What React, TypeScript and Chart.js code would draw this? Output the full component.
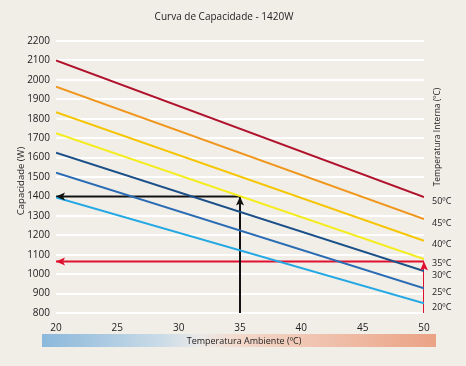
import React, { useEffect, useRef } from "react";
import { Chart, registerables } from "chart.js";

Chart.register(...registerables);

const xStart = 20;
const xEnd = 50;
const seriesLabels = ["50ºC", "45ºC", "40ºC", "35ºC", "30ºC", "25ºC", "20ºC"];
const startValues = [2100, 1965, 1833, 1725, 1625, 1522, 1395];
const endValues = [1397, 1284, 1172, 1078, 1016, 927, 850];
const seriesColors = ["#b0122c", "#f0961c", "#f5c500", "#f4ec1c", "#1a4f87", "#2a6cb3", "#24a8e4"];

const blackPointX = 35;
const blackPointY = 1400;
const redPointX = 50;
const redPointY = 1065;
const yMin = 800;
const yMax = 2200;

const FONT = "'Open Sans', sans-serif";

export default function App() {
  const ref = useRef<HTMLCanvasElement>(null);
  useEffect(() => {
    if (!ref.current) return;
    const lineSets = seriesLabels.map((lab, i) => ({
      label: lab,
      data: [
        { x: xStart, y: startValues[i] },
        { x: xEnd, y: endValues[i] },
      ],
      borderColor: seriesColors[i],
      borderWidth: 2,
      pointRadius: 0,
      tension: 0,
    }));
    const arrowSets = [
      { label: "bh", data: [{ x: blackPointX, y: blackPointY }, { x: xStart, y: blackPointY }], borderColor: "#111" },
      { label: "bv", data: [{ x: blackPointX, y: yMin }, { x: blackPointX, y: blackPointY }], borderColor: "#111" },
      { label: "rh", data: [{ x: redPointX, y: redPointY }, { x: xStart, y: redPointY }], borderColor: "#e0102f" },
      { label: "rv", data: [{ x: redPointX, y: yMin }, { x: redPointX, y: redPointY }], borderColor: "#e0102f" },
    ].map((d) => ({ ...d, borderWidth: 2, pointRadius: 0, tension: 0 }));

    const decor = {
      id: "decor",
      afterDraw(chart: any) {
        const ctx = chart.ctx;
        const xs = chart.scales.x;
        const ys = chart.scales.y;
        ctx.save();
        const head = (px: number, py: number, dir: string, color: string) => {
          ctx.fillStyle = color;
          ctx.beginPath();
          const L = 9, W = 4;
          if (dir === "left") {
            ctx.moveTo(px, py);
            ctx.lineTo(px + L, py - W);
            ctx.lineTo(px + L - 2, py);
            ctx.lineTo(px + L, py + W);
          } else {
            ctx.moveTo(px, py);
            ctx.lineTo(px - W, py + L);
            ctx.lineTo(px, py + L - 2);
            ctx.lineTo(px + W, py + L);
          }
          ctx.closePath();
          ctx.fill();
        };
        head(xs.getPixelForValue(xStart), ys.getPixelForValue(blackPointY), "left", "#111");
        head(xs.getPixelForValue(blackPointX), ys.getPixelForValue(blackPointY), "up", "#111");
        head(xs.getPixelForValue(xStart), ys.getPixelForValue(redPointY), "left", "#e0102f");
        head(xs.getPixelForValue(redPointX), ys.getPixelForValue(redPointY), "up", "#e0102f");

        ctx.fillStyle = "#222";
        ctx.font = `10px ${FONT}`;
        ctx.textAlign = "center";
        ctx.textBaseline = "middle";
        ctx.fillText("Curva de Capacidade - 1420W", 224, 17);

        ctx.font = `9px ${FONT}`;
        ctx.textAlign = "left";
        seriesLabels.forEach((lab, i) => {
          ctx.fillText(lab, chart.chartArea.right + 8, ys.getPixelForValue(endValues[i]) + 4);
        });

        ctx.save();
        ctx.translate(438, 137);
        ctx.rotate(-Math.PI / 2);
        ctx.textAlign = "center";
        ctx.font = `8.5px ${FONT}`;
        ctx.fillText("Temperatura Interna (ºC)", 0, 0);
        ctx.restore();

        ctx.save();
        ctx.translate(21, 181);
        ctx.rotate(-Math.PI / 2);
        ctx.textAlign = "center";
        ctx.font = `9.5px ${FONT}`;
        ctx.fillText("Capacidade (W)", 0, 0);
        ctx.restore();

        const bx0 = 42, bx1 = 436, by0 = 334, by1 = 347;
        const g = ctx.createLinearGradient(bx0, 0, bx1, 0);
        g.addColorStop(0, "#8bb8db");
        g.addColorStop(0.3, "#c9dbe7");
        g.addColorStop(0.4, "#ebe9e8");
        g.addColorStop(0.5, "#f3d9cb");
        g.addColorStop(1, "#eba285");
        ctx.fillStyle = g;
        ctx.fillRect(bx0, by0, bx1 - bx0, by1 - by0);
        ctx.fillStyle = "#222";
        ctx.font = `9px ${FONT}`;
        ctx.textAlign = "center";
        ctx.fillText("Temperatura Ambiente (ºC)", 244, 341);
        ctx.restore();
      },
    };

    const chart = new Chart(ref.current, {
      type: "line",
      data: { datasets: [...lineSets, ...arrowSets] as any },
      options: {
        animation: false,
        responsive: false,
        events: [],
        layout: { padding: { top: 41, right: 42, left: 0, bottom: 0 } },
        plugins: { legend: { display: false }, tooltip: { enabled: false }, title: { display: false } },
        scales: {
          x: {
            type: "linear",
            min: xStart,
            max: xEnd,
            ticks: { stepSize: 5, color: "#222", font: { family: FONT, size: 10 }, padding: 9, callback: (v: any) => String(v) },
            grid: { display: false, drawTicks: false },
            border: { display: false },
            afterFit: (s: any) => { s.height = 53; },
          },
          y: {
            min: yMin,
            max: yMax,
            ticks: { stepSize: 100, color: "#222", font: { family: FONT, size: 10 }, padding: 6, callback: (v: any) => String(v) },
            grid: { color: "#ffffff", lineWidth: 2, drawTicks: false },
            border: { display: false },
            afterFit: (s: any) => { s.width = 56; },
          },
        },
      },
      plugins: [decor],
    });
    return () => chart.destroy();
  }, []);
  return (
    <div style={{ position: "fixed", left: 0, top: 0, width: 466, height: 366, background: "#f1eee8" }}>
      <canvas ref={ref} width={466} height={366} style={{ width: 466, height: 366, display: "block" }} />
    </div>
  );
}
